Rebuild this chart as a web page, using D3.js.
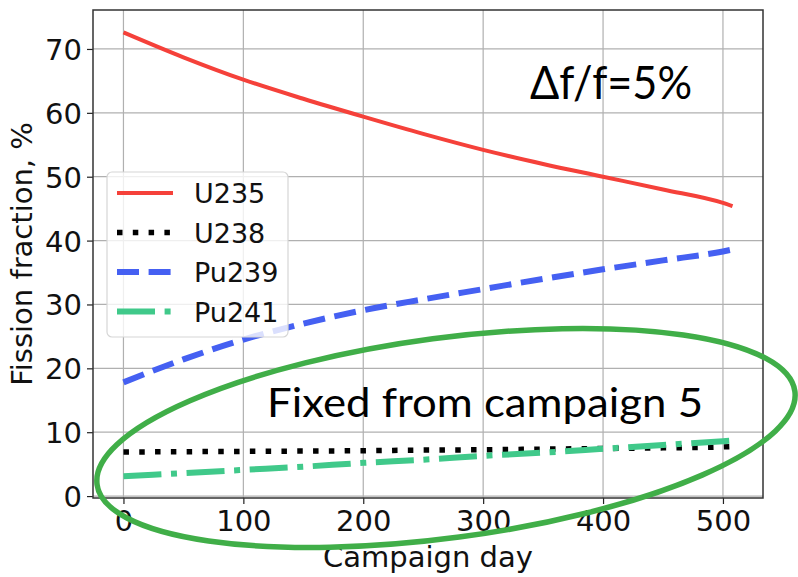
<!DOCTYPE html>
<html>
<head>
<meta charset="utf-8">
<script src="https://cdn.jsdelivr.net/npm/d3@7"></script>
<style>
  html, body { margin: 0; padding: 0; background: #fff; }
  svg { display: block; }
</style>
</head>
<body>
<script>
const days = [0, 50, 100, 150, 200, 250, 300, 350, 400, 450, 500, 508];

const u235 = [72.6, 68.7, 65.2, 62.2, 59.4, 56.7, 54.2, 52.0, 50.0, 48.0, 45.9, 45.4];
const u238 = [6.9, 6.95, 7.0, 7.05, 7.1, 7.2, 7.25, 7.35, 7.45, 7.55, 7.7, 7.75];
const pu239 = [17.8, 21.4, 24.5, 27.0, 29.1, 30.8, 32.4, 34.0, 35.5, 36.9, 38.3, 38.6];
const pu241 = [3.1, 3.6, 4.1, 4.6, 5.2, 5.7, 6.3, 6.8, 7.4, 8.0, 8.6, 8.7];

const xTicks = [0, 100, 200, 300, 400, 500];
const yTicks = [0, 10, 20, 30, 40, 50, 60, 70];

const seriesNames = ["U235", "U238", "Pu239", "Pu241"];

const w = 798;
const h = 577;
const margin = { top: 10, right: 35, bottom: 79, left: 93 };

const svg = d3
    .select("body")
    .append("svg")
    .attr("width", w)
    .attr("height", h);

const x = d3
    .scaleLinear()
    .domain([-25.4, 533.4])
    .range([margin.left, w - margin.right]);

const y = d3
    .scaleLinear()
    .domain([-0.3, 76.1])
    .range([h - margin.bottom, margin.top]);

const font = "DejaVu Sans, sans-serif";

// grid
const grid = svg.append("g").attr("stroke", "#b0b0b0").attr("stroke-width", 1.2);
grid.selectAll(".gx")
    .data(xTicks)
    .enter()
    .append("line")
    .attr("x1", d => x(d))
    .attr("x2", d => x(d))
    .attr("y1", margin.top)
    .attr("y2", h - margin.bottom);
grid.selectAll(".gy")
    .data(yTicks)
    .enter()
    .append("line")
    .attr("x1", margin.left)
    .attr("x2", w - margin.right)
    .attr("y1", d => y(d))
    .attr("y2", d => y(d));

// axes
const xAxis = svg
    .append("g")
    .attr("transform", `translate(0,${h - margin.bottom})`)
    .call(d3.axisBottom(x).tickValues(xTicks).tickSize(6).tickPadding(6).tickFormat(d3.format("d")));
const yAxis = svg
    .append("g")
    .attr("transform", `translate(${margin.left},0)`)
    .call(d3.axisLeft(y).tickValues(yTicks).tickSize(6).tickPadding(5).tickFormat(d3.format("d")));

[xAxis, yAxis].forEach(a => {
    a.select(".domain").remove();
    a.selectAll(".tick line").attr("stroke", "#222").attr("stroke-width", 1.2);
    a.selectAll(".tick text")
        .attr("fill", "#111")
        .attr("font-family", font)
        .attr("font-size", 29);
});
yAxis.selectAll(".tick text").attr("dy", "0.36em");

// frame
svg.append("rect")
    .attr("x", margin.left)
    .attr("y", margin.top)
    .attr("width", w - margin.left - margin.right)
    .attr("height", h - margin.top - margin.bottom)
    .attr("fill", "none")
    .attr("stroke", "#333")
    .attr("stroke-width", 1.5);

// axis labels
svg.append("text")
    .attr("x", (margin.left + w - margin.right) / 2)
    .attr("y", 567)
    .attr("text-anchor", "middle")
    .attr("font-family", font)
    .attr("font-size", 29)
    .attr("fill", "#111")
    .text("Campaign day");

svg.append("text")
    .attr("transform", `translate(32,${(margin.top + h - margin.bottom) / 2}) rotate(-90)`)
    .attr("text-anchor", "middle")
    .attr("font-family", font)
    .attr("font-size", 29)
    .attr("fill", "#111")
    .text("Fission fraction, %");

// series styles
const styles = {
    U235: { values: u235, color: "#f5413a", width: 4, dash: null },
    U238: { values: u238, color: "#000000", width: 5.5, dash: "5.5,10.3" },
    Pu239: { values: pu239, color: "#4560f2", width: 6, dash: "22,9.6" },
    Pu241: { values: pu241, color: "#40c98a", width: 6, dash: "38,9.6,6,9.6" },
};

const line = d3
    .line()
    .x(d => x(d[0]))
    .y(d => y(d[1]))
    .curve(d3.curveMonotoneX);

const plot = svg.append("g");
seriesNames.forEach(name => {
    const s = styles[name];
    plot.append("path")
        .datum(days.map((d, i) => [d, s.values[i]]))
        .attr("d", line)
        .attr("fill", "none")
        .attr("stroke", s.color)
        .attr("stroke-width", s.width)
        .attr("stroke-dasharray", s.dash);
});

// legend
const legend = svg.append("g").attr("transform", "translate(107,172)");
legend.append("rect")
    .attr("width", 181)
    .attr("height", 165)
    .attr("rx", 5)
    .attr("fill", "#fff")
    .attr("fill-opacity", 0.8)
    .attr("stroke", "#d6d6d6")
    .attr("stroke-width", 1.2);

seriesNames.forEach((name, i) => {
    const s = styles[name];
    const yy = 21 + i * 39.5;
    legend.append("line")
        .attr("x1", 10)
        .attr("x2", 66)
        .attr("y1", yy)
        .attr("y2", yy)
        .attr("stroke", s.color)
        .attr("stroke-width", s.width)
        .attr("stroke-dasharray", s.dash);
    legend.append("text")
        .attr("x", 87)
        .attr("y", yy + 10)
        .attr("font-family", font)
        .attr("font-size", 27)
        .attr("fill", "#111")
        .text(name);
});

// annotations
svg.append("text")
    .attr("x", 530)
    .attr("y", 99)
    .attr("font-family", "Lato, 'Open Sans', sans-serif")
    .attr("font-size", 47)
    .attr("textLength", 162)
    .attr("lengthAdjust", "spacingAndGlyphs")
    .attr("fill", "#000")
    .text("Δf/f=5%");

svg.append("text")
    .attr("x", 267)
    .attr("y", 417)
    .attr("font-family", "Lato, 'Open Sans', sans-serif")
    .attr("font-size", 40)
    .attr("textLength", 436)
    .attr("lengthAdjust", "spacingAndGlyphs")
    .attr("fill", "#000")
    .text("Fixed from campaign 5");

// green ellipse around the fixed isotopes
svg.append("ellipse")
    .attr("cx", x(269))
    .attr("cy", y(9.1))
    .attr("rx", 352)
    .attr("ry", 100)
    .attr("transform", `rotate(-7.6,${x(269)},${y(9.1)})`)
    .attr("fill", "none")
    .attr("stroke", "#40ae48")
    .attr("stroke-width", 5.5);
</script>
</body>
</html>
